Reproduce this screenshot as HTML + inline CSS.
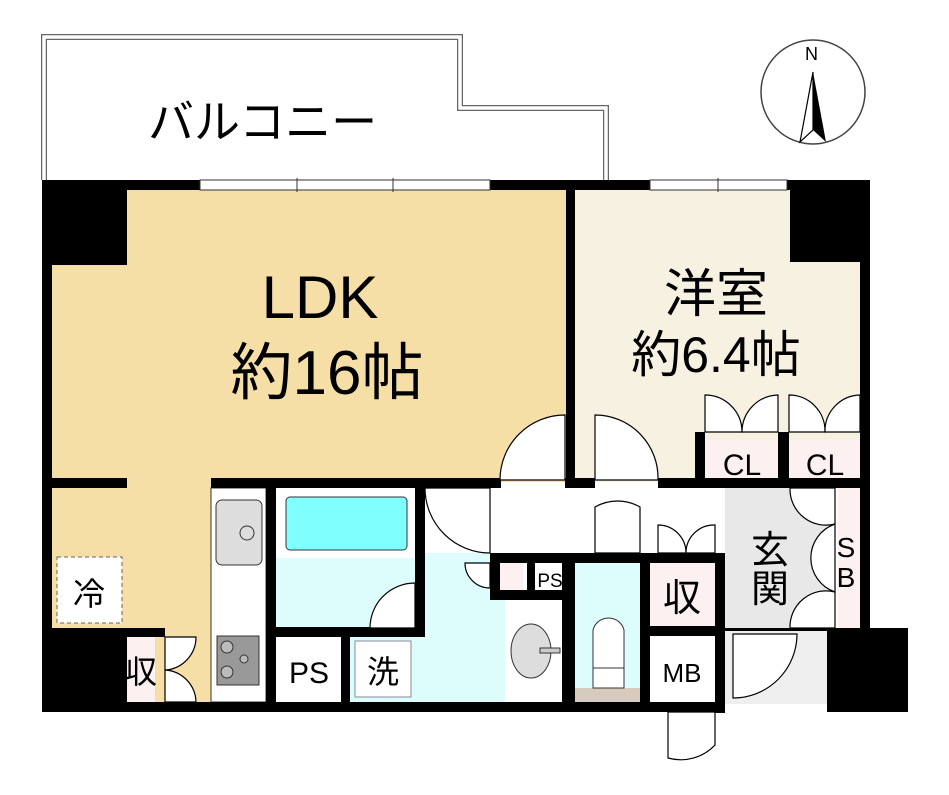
<!DOCTYPE html>
<html><head><meta charset="utf-8"><style>
body{margin:0;background:#fff}
svg{display:block}
text{font-family:"Liberation Sans","Noto Sans CJK JP",sans-serif;fill:#000}
</style></head><body>
<svg width="949" height="795" viewBox="0 0 949 795" xmlns="http://www.w3.org/2000/svg">
<!-- balcony -->
<path d="M44,180 V37 H460 V108 H606 V180" fill="none" stroke="#666" stroke-width="6"/>
<path d="M44,180 V37 H460 V108 H606 V180" fill="none" stroke="#fff" stroke-width="3.5"/>
<text x="148" y="138" font-size="46">バルコニー</text>
<!-- compass -->
<circle cx="813" cy="92" r="52" fill="#fff" stroke="#444" stroke-width="1.5"/>
<text x="805" y="60" font-size="18">N</text>
<polygon points="813,72 800,142 813,130" fill="#fff" stroke="#000" stroke-width="1.2"/>
<polygon points="813,72 826,142 813,130" fill="#000"/>
<!-- room fills -->
<rect x="52" y="190" width="516" height="292" fill="#f5dfa6"/>
<rect x="52" y="482" width="160" height="150" fill="#f5dfa6"/>
<rect x="125" y="628" width="87" height="76" fill="#f5dfa6"/>
<rect x="575" y="190" width="287" height="292" fill="#f7f1e2"/>
<rect x="276" y="558" width="140" height="70" fill="#ddfdfd"/>
<rect x="276" y="488" width="140" height="70" fill="#fff"/>
<rect x="286" y="497" width="121" height="53" rx="4" fill="#80ffff" stroke="#333"/>
<rect x="350" y="637" width="155" height="66" fill="#ddfdfd"/>
<rect x="425" y="488" width="80" height="216" fill="#ddfdfd"/>
<rect x="425" y="488" width="290" height="65" fill="#fff"/>
<rect x="575" y="563" width="65" height="140" fill="#ddfdfd"/>
<rect x="575" y="688" width="65" height="14" fill="#d6cbbd"/>
<rect x="505" y="600" width="57" height="102" fill="#fff"/>
<rect x="725" y="488" width="110" height="140" fill="#e8e8e8"/>
<rect x="725" y="628" width="102" height="76" fill="#efefef"/>
<rect x="838" y="488" width="22" height="140" fill="#fdf0f0"/>
<rect x="650" y="563" width="65" height="63" fill="#fdf0f0"/>
<rect x="705" y="440" width="73" height="40" fill="#fdf0f0"/>
<rect x="789" y="440" width="71" height="40" fill="#fdf0f0"/>
<rect x="127" y="637" width="28" height="65" fill="#fdf0f0"/>
<rect x="500" y="563" width="23" height="27" fill="#fdf0f0"/>
<rect x="211" y="488" width="55" height="214" fill="#fff" stroke="#333"/>
<!-- walls -->
<g fill="#000">
<rect x="42" y="180" width="828" height="10"/>
<rect x="42" y="180" width="10" height="532"/>
<rect x="42" y="180" width="85" height="85"/>
<rect x="790" y="180" width="80" height="82"/>
<rect x="860" y="180" width="10" height="448"/>
<rect x="42" y="628" width="85" height="84"/>
<rect x="42" y="702" width="680" height="10"/>
<rect x="827" y="628" width="81" height="84"/>
<rect x="566" y="190" width="9" height="298"/>
<rect x="42" y="478" width="85" height="10"/>
<rect x="211" y="478" width="290" height="10"/>
<rect x="565" y="478" width="30" height="10"/>
<rect x="658" y="478" width="212" height="10"/>
<rect x="125" y="628" width="40" height="9"/>
<rect x="266" y="488" width="10" height="214"/>
<rect x="415" y="488" width="10" height="140"/>
<rect x="276" y="627" width="149" height="10"/>
<rect x="341" y="637" width="9" height="65"/>
<rect x="490" y="553" width="225" height="10"/>
<rect x="490" y="553" width="10" height="47"/>
<rect x="490" y="590" width="85" height="10"/>
<rect x="527" y="563" width="8" height="30"/>
<rect x="562" y="563" width="13" height="140"/>
<rect x="640" y="553" width="10" height="150"/>
<rect x="715" y="553" width="10" height="160"/>
<rect x="640" y="626" width="85" height="10"/>
<rect x="695" y="432" width="10" height="50"/>
<rect x="778" y="432" width="11" height="50"/>
<rect x="725" y="628" width="102" height="3"/>
</g>
<!-- windows -->
<rect x="200" y="180" width="290" height="10" fill="#fff" stroke="#333"/>
<line x1="297" y1="178" x2="297" y2="192" stroke="#333"/><line x1="393" y1="178" x2="393" y2="192" stroke="#333"/>
<rect x="650" y="180" width="137" height="10" fill="#fff" stroke="#333"/>
<line x1="718" y1="178" x2="718" y2="192" stroke="#333"/>
<!-- doors -->
<g fill="#fff" stroke="#000" stroke-width="1.2">
<path d="M500,480 A65,65 0 0 1 565,415 V480 Z"/>
<path d="M595,480 V415 A63,63 0 0 1 658,480 Z"/>
<path d="M705,432 V395 A37,37 0 0 1 742,432 Z"/><path d="M778,432 V395 A37,37 0 0 0 742,432 Z"/>
<path d="M789,432 V395 A36,36 0 0 1 825,432 Z"/><path d="M860,432 V395 A36,36 0 0 0 825,432 Z"/>
<path d="M425,488 H490 V553 A65,65 0 0 1 425,488 Z"/>
<path d="M595,553 V507 A45,45 0 0 1 640,507 V553 Z"/>
<path d="M658,553 V525 A28,28 0 0 1 686,553 Z"/><path d="M715,553 V525 A28,28 0 0 0 686,553 Z"/>
<path d="M370,628 A45,45 0 0 1 415,583 V628 Z"/>
<path d="M465,563 A25,25 0 0 0 490,588 V563 Z"/>
<path d="M790,488 H835 V524 A36,36 0 0 1 790,488 Z"/>
<path d="M835,524 A36,36 0 0 0 835,592 Z"/>
<path d="M835,592 V628 H790 A36,36 0 0 1 835,592 Z"/>
<path d="M733,634 H797 A64,64 0 0 1 733,698 Z"/>
<path d="M668,712 H715 V745 A47,47 0 0 1 668,758 Z"/>
<path d="M165,637 H196 A33,33 0 0 1 165,670 A33,33 0 0 1 196,702 H165 Z"/>
</g>
<!-- fridge -->
<rect x="57" y="557" width="65" height="66" fill="#fff" stroke="#666" stroke-dasharray="4,3"/>
<text x="89" y="605" font-size="32" text-anchor="middle">冷</text>
<!-- sink & stove -->
<rect x="216" y="500" width="46" height="65" rx="6" fill="#ddd" stroke="#333"/>
<circle cx="247" cy="533" r="7" fill="#ddd" stroke="#333"/>
<rect x="217" y="636" width="42" height="49" fill="#999" stroke="#333"/>
<circle cx="227" cy="647" r="6" fill="#bbb" stroke="#333"/><circle cx="227" cy="672" r="6" fill="#bbb" stroke="#333"/><circle cx="244" cy="659" r="4" fill="#bbb" stroke="#333"/>
<!-- wash basin / toilet -->
<ellipse cx="531" cy="651" rx="20" ry="27" fill="#ddd" stroke="#333"/>
<rect x="540" y="648" width="20" height="5" fill="#ccc" stroke="#333"/>
<path d="M593,670 V630 A16,16 0 0 1 624,630 V670 Z" fill="#fff" stroke="#333"/>
<rect x="593" y="668" width="31" height="20" fill="#fff" stroke="#333"/>
<!-- labels -->
<text x="320" y="318" font-size="60" text-anchor="middle">LDK</text>
<text x="327" y="394" font-size="62" text-anchor="middle">約16帖</text>
<text x="716" y="312" font-size="52" text-anchor="middle">洋室</text>
<text x="716" y="372" font-size="50" text-anchor="middle">約6.4帖</text>
<text x="742" y="475" font-size="30" text-anchor="middle">CL</text>
<text x="825" y="475" font-size="30" text-anchor="middle">CL</text>
<text x="770" y="563" font-size="38" text-anchor="middle">玄</text>
<text x="770" y="602" font-size="38" text-anchor="middle">関</text>
<text x="846" y="557" font-size="28" text-anchor="middle">S</text>
<text x="846" y="587" font-size="28" text-anchor="middle">B</text>
<text x="682" y="611" font-size="38" text-anchor="middle">収</text>
<text x="682" y="682" font-size="26" text-anchor="middle">MB</text>
<text x="550" y="587" font-size="19" text-anchor="middle">PS</text>
<text x="309" y="683" font-size="30" text-anchor="middle">PS</text>
<rect x="355" y="641" width="56" height="56" fill="#fff" stroke="#889"/>
<text x="383" y="683" font-size="32" text-anchor="middle">洗</text>
<text x="141" y="683" font-size="32" text-anchor="middle">収</text>
</svg>
</body></html>
